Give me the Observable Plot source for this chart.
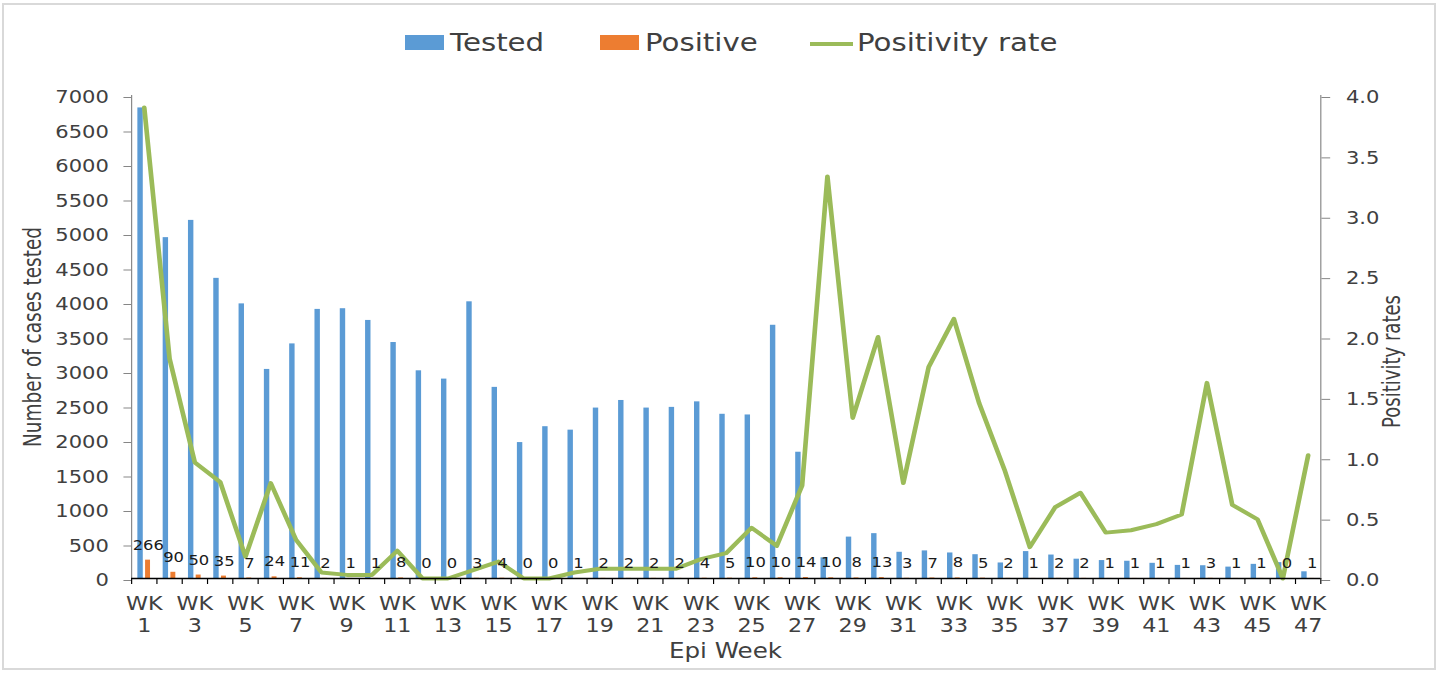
<!DOCTYPE html>
<html><head><meta charset="utf-8">
<script src="https://cdn.jsdelivr.net/npm/d3@7"></script>
<script src="https://cdn.jsdelivr.net/npm/@observablehq/plot@0.6"></script>
<style>
body{margin:0;background:#fff;}
#root{position:relative;width:1440px;height:674px;overflow:hidden;font-family:"DejaVu Sans",sans-serif;background:#fff;}
.border{position:absolute;left:2px;top:3px;width:1434px;height:667px;border:2px solid #d9d9d9;box-sizing:border-box;}
#chart{position:absolute;left:0;top:80px;transform-origin:0 0;transform:scaleX(1.17);}
.lbl{position:absolute;left:0;top:0;white-space:nowrap;line-height:1;transform-origin:0 0;color:#404040;}
.sw{position:absolute;}
</style></head>
<body><div id="root"><div class="border"></div><div id="chart"></div></div>
<script>
// ---- data ----
const weeks = [1,2,3,4,5,6,7,8,9,10,11,12,13,14,15,16,17,18,19,20,21,22,23,24,25,26,27,28,29,30,31,32,33,34,35,36,37,38,39,40,41,42,43,44,45,46,47];
const tested = [6820,4940,5190,4350,3980,3030,3400,3900,3910,3740,3420,3010,2890,4010,2770,1970,2200,2150,2470,2580,2470,2480,2560,2380,2370,3670,1830,300,600,650,380,400,370,345,225,390,340,280,260,250,220,190,185,165,205,230,97];
const positive = [266,90,50,35,7,24,11,2,1,1,8,0,0,3,4,0,0,1,2,2,2,2,4,5,10,10,14,10,8,13,3,7,8,5,2,1,2,2,1,1,1,1,3,1,1,0,1];
const rate = [3.9,1.82,0.96,0.80,0.18,0.79,0.32,0.05,0.03,0.03,0.23,0,0,0.07,0.14,0,0,0.05,0.08,0.08,0.08,0.08,0.16,0.21,0.42,0.27,0.77,3.33,1.33,2.0,0.79,1.75,2.15,1.45,0.9,0.26,0.59,0.71,0.38,0.40,0.45,0.53,1.62,0.61,0.49,0,1.02];
const caseTicks = [0,500,1000,1500,2000,2500,3000,3500,4000,4500,5000,5500,6000,6500,7000];
const rateTicks = [0,0.5,1.0,1.5,2.0,2.5,3.0,3.5,4.0];
const legendItems = ["Tested","Positive","Positivity rate"];
const colors = {tested:"#5B9BD5", positive:"#ED7D31", rate:"#9BBB59"};

const table = weeks.map((w,i)=>({week:w, tested:tested[i], positive:positive[i], rate:rate[i]}));

// ---- layout ----
const W0 = 1231, H = 594;
const mL = 112, mR = 102.6, mT = 15, mB = 96;
const bw = (W0 - mL - mR) / weeks.length;
const yMax = caseTicks[caseTicks.length-1];
const k = yMax / rateTicks[rateTicks.length-1];

const chart = Plot.plot({
  width: W0, height: H,
  marginLeft: mL, marginRight: mR, marginTop: mT, marginBottom: mB,
  style: {fontFamily: "DejaVu Sans, sans-serif", color: "#404040", background: "transparent"},
  x: {type: "band", domain: weeks, padding: 0, round: false, label: null},
  y: {domain: [0, yMax], label: null},
  marks: [
    Plot.barY(table, {x: "week", y: "tested", fill: colors.tested, insetLeft: 5.4, insetRight: 11.6}),
    Plot.barY(table, {x: "week", y: "positive", fill: colors.positive, insetLeft: 12, insetRight: 5.4}),
    Plot.line(table, {x: "week", y: d => d.rate * k, stroke: colors.rate, strokeWidth: 4, strokeLinejoin: "round", strokeLinecap: "round"}),
    Plot.text(table, {x: "week", y: "positive", text: d => String(d.positive), dx: 3.4, dy: -15, fontSize: 14, fill: "#1a1a1a", lineAnchor: "middle"}),
    Plot.frame({anchor: "left", stroke: "#868686"}),
    Plot.frame({anchor: "right", stroke: "#868686"}),
    Plot.ruleY([0], {stroke: "#000", strokeWidth: 1.3}),
    Plot.axisY({anchor: "left", ticks: caseTicks, label: null, tickSize: 6.5, tickPadding: 13, fontSize: 18, dy: 2, stroke: "#868686", fill: "#404040", tickFormat: d => String(d)}),
    Plot.axisY({anchor: "right", ticks: rateTicks.map(v => v * k), label: null, tickSize: 7.5, tickPadding: 14, fontSize: 18, dy: 2, stroke: "#868686", fill: "#404040", tickFormat: d => (d / k).toFixed(1)}),
    Plot.axisX({ticks: weeks, label: null, tickFormat: () => "", tickSize: 6, dx: -bw/2, stroke: "#000"}),
    Plot.axisX({ticks: [weeks[weeks.length-1]], label: null, tickFormat: () => "", tickSize: 6, dx: bw/2, stroke: "#000"}),
    Plot.axisX({ticks: weeks.filter(w => w % 2 === 1), label: null, tickFormat: d => `WK\n${d}`, tickSize: 0, tickPadding: 16, fontSize: 19, lineHeight: 1.16, fill: "#404040"})
  ]
});
document.getElementById("chart").appendChild(chart);

// ---- text & legend ----
const root = document.getElementById("root");
function place(str, o) {
  const el = document.createElement("div");
  el.className = "lbl";
  el.textContent = str;
  el.style.fontSize = o.size + "px";
  root.appendChild(el);
  const w = el.getBoundingClientRect().width;
  const capMid = 0.481 * o.size;
  let t;
  if (o.rotate) {
    const s = o.length / w;
    t = `translate(${o.cx}px,${o.cy}px) rotate(-90deg) scaleX(${s}) translate(${-w/2}px,${-capMid}px)`;
  } else {
    const sx = o.sx || 1;
    const left = o.cx !== undefined ? o.cx - w * sx / 2 : o.x;
    t = `translate(${left}px,${o.baseline - 0.846 * o.size}px) scaleX(${sx})`;
  }
  el.style.transform = t;
}
function swatch(x, y, w, h, c) {
  const el = document.createElement("div");
  el.className = "sw";
  Object.assign(el.style, {left: x + "px", top: y + "px", width: w + "px", height: h + "px", background: c});
  root.appendChild(el);
}
swatch(405, 35, 39, 15, colors.tested);
place(legendItems[0], {x: 450, baseline: 51, size: 25, sx: 1.17});
swatch(600, 35, 39, 15, colors.positive);
place(legendItems[1], {x: 645, baseline: 51, size: 25, sx: 1.17});
swatch(810, 42, 43, 4, colors.rate);
place(legendItems[2], {x: 857, baseline: 51, size: 25, sx: 1.17});

place("Epi Week", {cx: 725.5, baseline: 659, size: 21, sx: 1.17});
place("Number of cases tested", {rotate: true, cx: 32.5, cy: 337, size: 25, length: 220});
place("Positivity rates", {rotate: true, cx: 1391.5, cy: 361.5, size: 25, length: 133});
</script>
</body></html>
